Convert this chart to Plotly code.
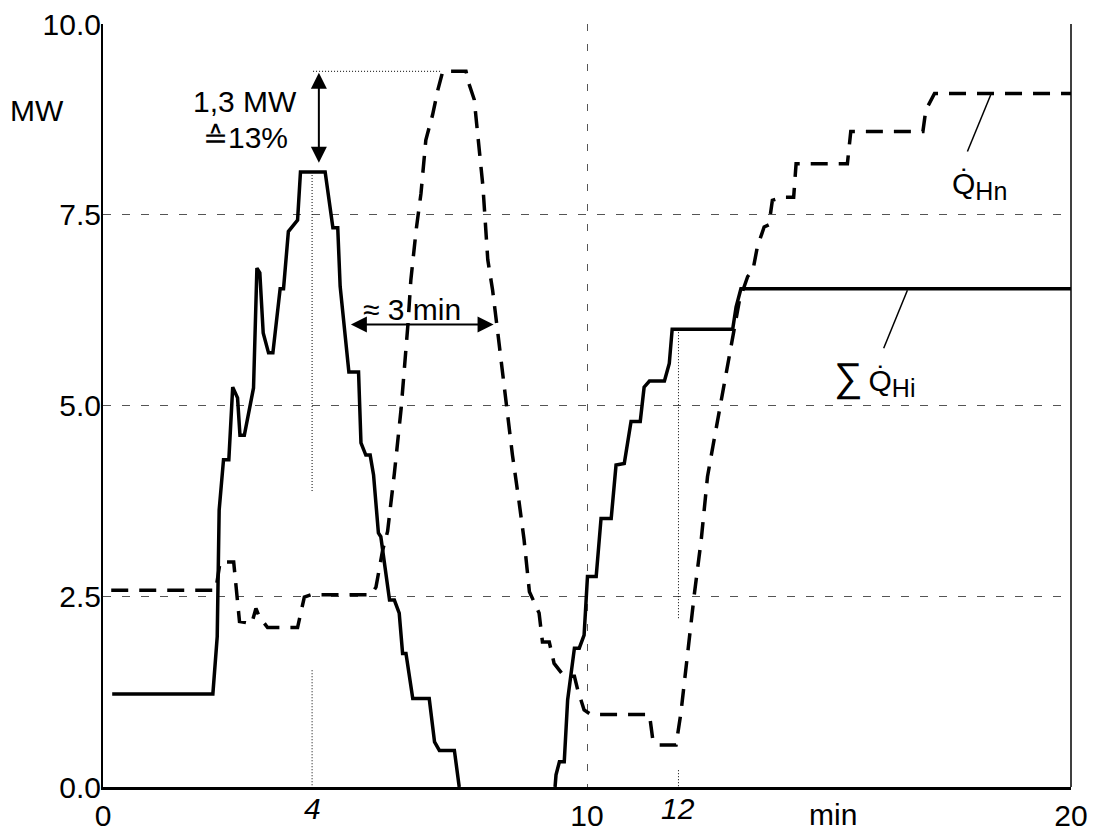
import plotly.graph_objects as go

# ---- data (minutes, MW) ----
sum_x = [0.19, 2.27, 2.36, 2.40, 2.49, 2.60, 2.68, 2.78, 2.83, 2.92, 3.11, 3.18, 3.24, 3.31, 3.42, 3.51,
         3.66, 3.73, 3.83, 4.02, 4.08, 4.59, 4.75, 4.85, 4.90, 5.08, 5.28, 5.33, 5.43, 5.52, 5.59, 5.69,
         5.74, 5.92, 6.02, 6.12, 6.19, 6.26, 6.40, 6.74, 6.85, 6.95, 7.26, 7.36, None,
         9.34, 9.36, 9.43, 9.53, 9.60, 9.74, 9.84, 9.94, 10.01, 10.19, 10.29, 10.50, 10.60, 10.77, 10.91,
         11.10, 11.18, 11.29, 11.60, 11.70, 11.76, 13.01, 13.08, 13.18, 20.0]
sum_y = [1.22, 1.22, 1.97, 3.63, 4.29, 4.29, 5.24, 5.10, 4.61, 4.61, 5.23, 6.80, 6.74, 5.95, 5.69, 5.69,
         6.53, 6.53, 7.28, 7.43, 8.06, 8.06, 7.33, 7.33, 6.56, 5.44, 5.44, 4.51, 4.35, 4.35, 4.09, 3.33,
         3.28, 2.45, 2.45, 2.28, 1.75, 1.75, 1.16, 1.16, 0.59, 0.48, 0.48, 0.0, None,
         0.0, 0.16, 0.33, 0.33, 1.14, 1.82, 1.82, 1.99, 2.76, 2.76, 3.52, 3.52, 4.22, 4.24, 4.79,
         4.79, 5.24, 5.32, 5.32, 5.55, 6.00, 6.00, 6.29, 6.53, 6.53]

hn_x = [0.17, 2.33, 2.42, 2.70, 2.82, 3.07, 3.16, 3.23, 3.40, 4.02, 4.16, 4.30, 5.54, 5.64, 5.78, 5.88,
        6.02, 6.16, 6.30, 6.36, 6.47, 6.57, 6.67, 6.81, 6.92, 7.02, 7.50, 7.57, 7.67, 7.74, 7.85, 7.95,
        8.05, 8.15, 8.26, 8.36, 8.46, 8.60, 8.70, 8.81, 8.88, 9.01, 9.08, 9.22, 9.32, 9.53, 9.74, 9.81,
        9.94, 10.08, 11.29, 11.36, 11.46, 11.84, 11.94, 12.08, 12.22, 12.36, 12.49, 12.60, 12.70, 12.80,
        12.91, 13.01, 13.15, 13.32, 13.43, 13.52, 13.66, 13.76, 13.83, 14.04, 14.27, 14.32, 15.38, 15.45,
        16.94, 17.00, 17.18, 20.0]
hn_y = [2.58, 2.58, 2.95, 2.95, 2.17, 2.14, 2.34, 2.23, 2.09, 2.09, 2.49, 2.52, 2.52, 2.62, 3.11, 3.35,
        4.11, 4.96, 6.06, 6.64, 7.30, 7.78, 8.48, 8.81, 9.14, 9.38, 9.38, 9.20, 9.01, 8.57, 7.87, 6.91,
        6.51, 5.99, 5.42, 4.81, 4.35, 3.72, 3.24, 2.56, 2.47, 2.28, 1.90, 1.90, 1.62, 1.45, 1.45, 1.27,
        1.01, 0.95, 0.95, 0.62, 0.55, 0.55, 0.97, 1.80, 2.54, 3.24, 4.07, 4.46, 4.81, 5.20,
        5.60, 5.95, 6.38, 6.69, 6.78, 7.08, 7.34, 7.37, 7.69, 7.73, 7.73, 8.17, 8.17, 8.59,
        8.59, 8.87, 9.09, 9.09]

x_ticks = [0, 10, 20]
x_tick_text = ["0", "10", "20"]
y_ticks = [0, 2.5, 5, 7.5, 10]
y_tick_text = ["0.0", "2.5", "5.0", "7.5", "10.0"]

FONT = "Liberation Sans, Arial, sans-serif"
FS = 30

fig = go.Figure()
fig.add_trace(go.Scatter(x=hn_x, y=hn_y, mode="lines", connectgaps=False,
                         line=dict(color="black", width=3.5, dash="17px,11px"), showlegend=False))
fig.add_trace(go.Scatter(x=sum_x, y=sum_y, mode="lines", connectgaps=False,
                         line=dict(color="black", width=3.5), showlegend=False))

shapes = []
dot = dict(color="black", width=1, dash="1px,2px")
# dotted reference lines
shapes.append(dict(type="line", xref="x", yref="y", x0=4.34, x1=6.98, y0=9.38, y1=9.38, line=dot))
shapes.append(dict(type="line", xref="x", yref="y", x0=4.32, x1=4.32, y0=8.06, y1=3.87, line=dot))
shapes.append(dict(type="line", xref="x", yref="y", x0=4.32, x1=4.32, y0=1.53, y1=0, line=dot))
shapes.append(dict(type="line", xref="x", yref="y", x0=11.89, x1=11.89, y0=6.0, y1=2.19, line=dot))
shapes.append(dict(type="line", xref="x", yref="y", x0=11.89, x1=11.89, y0=0.22, y1=0, line=dot))
# leader lines for labels
shapes.append(dict(type="line", xref="x", yref="y", x0=17.86, y0=8.33, x1=18.34, y1=9.07,
                   line=dict(color="black", width=1.5)))
shapes.append(dict(type="line", xref="x", yref="y", x0=16.13, y0=5.75, x1=16.62, y1=6.51,
                   line=dict(color="black", width=1.5)))
# right border
shapes.append(dict(type="line", xref="paper", yref="paper", x0=1, x1=1, y0=0, y1=1,
                   line=dict(color="black", width=1.5)))

ann = []
tf = dict(family=FONT, size=FS, color="black")
ann.append(dict(xref="paper", yref="paper", x=-0.068, y=0.887, xanchor="center", yanchor="middle",
                text="MW", showarrow=False, font=tf))
ann.append(dict(xref="x", yref="y", x=2.93, y=8.99, text="1,3 MW", showarrow=False, font=tf))
ann.append(dict(xref="x", yref="y", x=2.95, y=8.51, text="\u225913%", showarrow=False, font=tf))
ann.append(dict(xref="x", yref="y", x=6.38, y=6.26, text="\u2248 3 min", showarrow=False, font=tf))
# double arrows
ann.append(dict(xref="x", yref="y", axref="x", ayref="y", x=4.46, y=8.18, ax=4.46, ay=9.38,
                text="", showarrow=True, arrowhead=2, arrowside="end+start", arrowsize=1.6,
                arrowwidth=2, arrowcolor="black", standoff=0, startstandoff=0))
ann.append(dict(xref="x", yref="y", axref="x", ayref="y", x=8.07, y=6.06, ax=5.09, ay=6.06,
                text="", showarrow=True, arrowhead=2, arrowside="end+start", arrowsize=1.6,
                arrowwidth=2, arrowcolor="black", standoff=0, startstandoff=0))
# italic marker labels on x axis
ann.append(dict(xref="x", yref="paper", x=4.32, y=-0.028, text="<i>4</i>", showarrow=False,
                font=tf, xanchor="center", yanchor="middle"))
ann.append(dict(xref="x", yref="paper", x=11.89, y=-0.028, text="<i>12</i>", showarrow=False,
                font=tf, xanchor="center", yanchor="middle"))
ann.append(dict(xref="x", yref="paper", x=15.09, y=-0.036, text="min", showarrow=False,
                font=tf, xanchor="center", yanchor="middle"))
# curve labels
ann.append(dict(xref="x", yref="y", x=17.51, y=7.88, xanchor="left",
                text="Q\u0307<sub><span style='font-size:25px'>Hn</span></sub>",
                showarrow=False, font=tf))
ann.append(dict(xref="x", yref="y", x=15.07, y=5.35, xanchor="left",
                text="<span style='font-size:40px'>\u2211</span>\u2009Q\u0307<sub><span style='font-size:25px'>Hi</span></sub>",
                showarrow=False, font=tf))

fig.update_layout(
    template="none",
    width=1094, height=833,
    margin=dict(l=103, r=23, t=24, b=46, autoexpand=False),
    paper_bgcolor="white", plot_bgcolor="white",
    font=dict(family=FONT, size=FS, color="black"),
    shapes=shapes, annotations=ann,
    xaxis=dict(range=[0, 20], tickvals=x_ticks, ticktext=x_tick_text, showgrid=True,
               gridcolor="#555", gridwidth=1, griddash="7px,13px", zeroline=False,
               showline=True, linecolor="black", linewidth=3, ticks="", tickfont=tf,
               ticklabelstandoff=0, automargin=False, ticklabeloverflow="allow"),
    yaxis=dict(range=[0, 10], tickvals=y_ticks, ticktext=y_tick_text, showgrid=True,
               gridcolor="#555", gridwidth=1, griddash="8px,11px", zeroline=False,
               showline=True, linecolor="black", linewidth=2, ticks="", tickfont=tf,
               ticklabelstandoff=-6, automargin=False, ticklabeloverflow="allow"),
)

fig.write_html("out.html", config={"displayModeBar": False},
               post_script="document.body.style.margin='0';document.body.style.overflow='hidden';")
